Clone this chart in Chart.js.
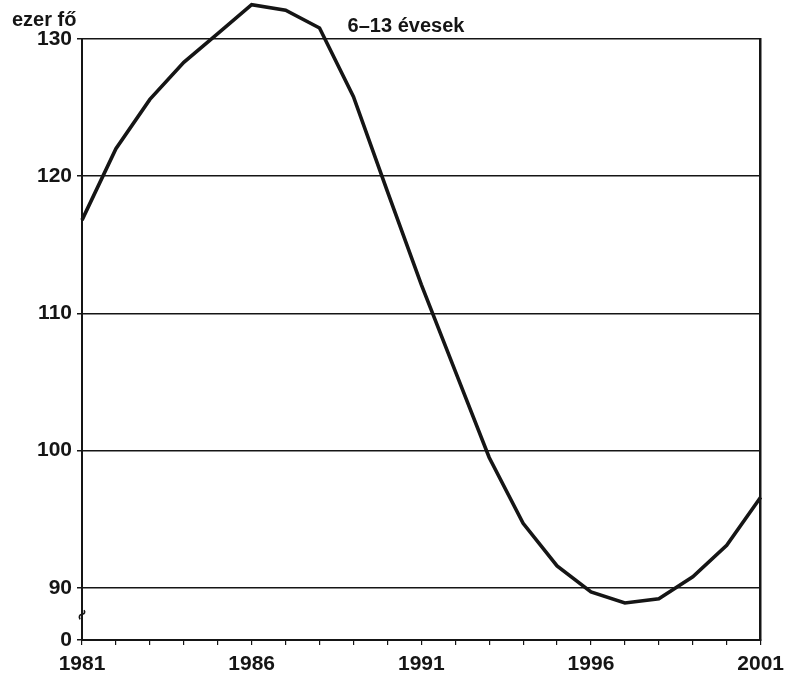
<!DOCTYPE html>
<html>
<head>
<meta charset="utf-8">
<script src="https://cdn.jsdelivr.net/npm/chart.js@4/dist/chart.umd.min.js"></script>
<style>
html,body{margin:0;padding:0;background:#fff;}
#wrap{width:791px;height:678px;position:relative;}
</style>
</head>
<body>
<div id="wrap"><canvas id="c" width="791" height="678"></canvas></div>
<script>
// Data
const years = [1981,1982,1983,1984,1985,1986,1987,1988,1989,1990,1991,1992,1993,1994,1995,1996,1997,1998,1999,2000,2001];
const values = [116.8,122.0,125.6,128.3,130.4,132.5,132.1,130.8,125.8,118.9,112.1,105.8,99.5,94.7,91.6,89.7,88.9,89.2,90.8,93.1,96.6];
const yTickValues = [90,100,110,120,130];
const xLabelYears = [1981,1986,1991,1996,2001];
const yAxisBreakValue = 86.2;   // axis bottom, labelled "0" (broken axis)
const unitLabel = 'ezer fő';
const titleText = '6–13 évesek';

const FONT = '"Liberation Sans", Arial, sans-serif';
const INK = '#151515';

const decor = {
  id: 'decor',
  afterDraw(chart) {
    const ctx = chart.ctx;
    const ys = chart.scales.y;
    ctx.save();
    ctx.fillStyle = INK;
    ctx.font = 'bold 20px ' + FONT;
    ctx.textBaseline = 'alphabetic';
    ctx.textAlign = 'left';
    ctx.fillText(unitLabel, 12, 26);
    ctx.textAlign = 'center';
    ctx.fillText(titleText, 406, 32);
    // axis break mark
    const x = chart.chartArea.left;
    const yb = ys.getPixelForValue(88);
    ctx.strokeStyle = INK;
    ctx.lineWidth = 1.6;
    ctx.beginPath();
    ctx.moveTo(x - 2, yb + 4);
    ctx.quadraticCurveTo(x - 4, yb, x, yb - 1);
    ctx.quadraticCurveTo(x + 4, yb - 2, x + 2, yb - 5);
    ctx.stroke();
    ctx.restore();
  }
};

new Chart(document.getElementById('c'), {
  type: 'line',
  data: {
    datasets: [{
      data: years.map((yr, i) => ({x: yr, y: values[i]})),
      borderColor: INK,
      borderWidth: 3.6,
      pointRadius: 0,
      tension: 0,
      fill: false,
      clip: false,
      yAxisID: 'y'
    }]
  },
  options: {
    responsive: false,
    animation: false,
    layout: {padding: {top: 39, left: 0, right: 0, bottom: 0}},
    plugins: {legend: {display: false}, tooltip: {enabled: false}, title: {display: false}},
    scales: {
      x: {
        type: 'linear',
        min: years[0],
        max: years[years.length - 1],
        afterBuildTicks(s) { s.ticks = years.map(v => ({value: v})); },
        afterFit(s) { s.height = 38; },
        ticks: {
          autoSkip: false,
          maxRotation: 0,
          padding: 7,
          color: INK,
          font: {family: FONT, size: 21, weight: 'bold'},
          callback: v => xLabelYears.includes(v) ? String(v) : ''
        },
        grid: {drawOnChartArea: false, drawTicks: true, tickLength: 5, color: INK, lineWidth: 1.2},
        border: {display: true, color: INK, width: 2}
      },
      y: {
        type: 'linear',
        position: 'left',
        min: yAxisBreakValue,
        max: 130,
        afterBuildTicks(s) { s.ticks = [yAxisBreakValue].concat(yTickValues).map(v => ({value: v})); },
        afterFit(s) { s.width = 82; },
        ticks: {
          padding: 5,
          color: INK,
          font: {family: FONT, size: 21, weight: 'bold'},
          callback: v => v === yAxisBreakValue ? '0' : String(v)
        },
        grid: {drawOnChartArea: true, drawTicks: true, tickLength: 5, color: INK, lineWidth: 1.5},
        border: {display: true, color: INK, width: 2}
      },
      y2: {
        type: 'linear',
        position: 'right',
        min: yAxisBreakValue,
        max: 130,
        afterFit(s) { s.width = 28; },
        ticks: {display: false},
        grid: {display: false, drawTicks: false},
        border: {display: true, color: INK, width: 2.5}
      }
    }
  },
  plugins: [decor]
});
</script>
</body>
</html>
